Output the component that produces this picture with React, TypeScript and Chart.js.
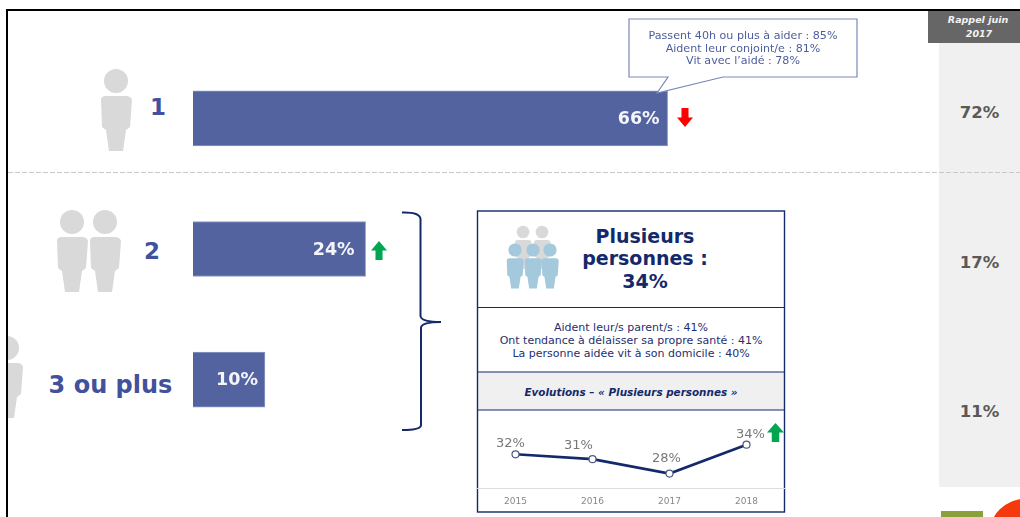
import React, { useEffect, useRef } from "react";
import { Chart, registerables } from "chart.js";

Chart.register(...registerables);

const categories = ["1", "2", "3 ou plus"];
const shares = [66, 24, 10];
const recallValues = [72, 17, 11];
const years = ["2015", "2016", "2017", "2018"];
const evolution = [32, 31, 28, 34];
const calloutLines = [
  "Passent 40h ou plus à aider : 85%",
  "Aident leur conjoint/e : 81%",
  "Vit avec l’aidé : 78%",
];
const panelLines = [
  "Aident leur/s parent/s : 41%",
  "Ont tendance à délaisser sa propre santé : 41%",
  "La personne aidée vit à son domicile : 40%",
];
const panelTitle = ["Plusieurs", "personnes :", "34%"];

const FONT = '"DejaVu Sans", Verdana, sans-serif';
const NAVY = "#14296b";
const BAR = "#5263a0";
const W = 1020;
const H = 517;

function Person({ cx, cy, s = 1, fill = "#d9d9d9" }: { cx: number; cy: number; s?: number; fill?: string }) {
  return (
    <g transform={`translate(${cx} ${cy}) scale(${s})`} fill={fill}>
      <circle cx={0} cy={0} r={12} />
      <path d="M-15 19 Q-15 15 -10 15 L10 15 Q15 15 16 19 L14 46 L10 49 L7 70 L-7 70 L-10 49 L-14 46 Z" />
    </g>
  );
}

function Arrow({ x, y, w, h, up, fill }: { x: number; y: number; w: number; h: number; up: boolean; fill: string }) {
  const a = w * 0.28;
  const head = h * 0.5;
  const pts = up
    ? [[x + w / 2, y], [x + w, y + head], [x + w - a, y + head], [x + w - a, y + h], [x + a, y + h], [x + a, y + head], [x, y + head]]
    : [[x + a, y], [x + w - a, y], [x + w - a, y + h - head], [x + w, y + h - head], [x + w / 2, y + h], [x, y + h - head], [x + a, y + h - head]];
  return <polygon points={pts.map((p) => p.join(",")).join(" ")} fill={fill} />;
}

export default function App() {
  const barRef = useRef<HTMLCanvasElement>(null);
  const lineRef = useRef<HTMLCanvasElement>(null);

  useEffect(() => {
    const insets = [8, 11, 7];
    const barValuePlugin = {
      id: "barValues",
      afterDatasetsDraw(chart: any) {
        const { ctx } = chart;
        const meta = chart.getDatasetMeta(0);
        ctx.save();
        ctx.font = `bold 17.5px ${FONT}`;
        ctx.fillStyle = "#f4f5fa";
        ctx.textAlign = "right";
        ctx.textBaseline = "middle";
        meta.data.forEach((el: any, i: number) => {
          ctx.fillText(`${shares[i]}%`, el.x - insets[i], el.y + 1);
        });
        ctx.restore();
      },
    };
    const bar = new Chart(barRef.current!, {
      type: "bar",
      data: {
        labels: categories,
        datasets: [{ data: shares, backgroundColor: BAR, borderColor: "#8d99c4", borderWidth: 1, barThickness: 55 }],
      },
      options: {
        indexAxis: "y",
        animation: false,
        responsive: false,
        layout: { padding: { left: 193, right: 0, top: 53, bottom: 72 } },
        plugins: { legend: { display: false }, tooltip: { enabled: false } },
        scales: {
          x: { display: false, min: 0, max: 115 },
          y: { display: false },
        },
      },
      plugins: [barValuePlugin],
    });

    const labelOffsets = [[-5, -11], [-14, -14], [-3, -15], [4, -10]];
    const lineLabelPlugin = {
      id: "lineLabels",
      afterDatasetsDraw(chart: any) {
        const { ctx } = chart;
        const meta = chart.getDatasetMeta(0);
        ctx.save();
        ctx.font = `13px ${FONT}`;
        ctx.fillStyle = "#777777";
        ctx.textAlign = "center";
        ctx.textBaseline = "middle";
        meta.data.forEach((el: any, i: number) => {
          ctx.fillText(`${evolution[i]}%`, el.x + labelOffsets[i][0], el.y + labelOffsets[i][1]);
        });
        ctx.restore();
      },
    };
    const line = new Chart(lineRef.current!, {
      type: "line",
      data: {
        labels: years,
        datasets: [{
          data: evolution,
          borderColor: NAVY,
          borderWidth: 2.6,
          tension: 0,
          pointRadius: 3.5,
          pointBackgroundColor: "#ffffff",
          pointBorderColor: "#4e5a84",
          pointBorderWidth: 1.2,
        }],
      },
      options: {
        animation: false,
        responsive: false,
        layout: { padding: 0, autoPadding: false },
        plugins: { legend: { display: false }, tooltip: { enabled: false } },
        scales: {
          x: {
            offset: true,
            afterFit(scale: any) {
              scale.height = 24;
              scale.paddingLeft = 0;
              scale.paddingRight = 0;
            },
            grid: { display: false },
            border: { display: true, color: "#dddddd", width: 1 },
            ticks: { color: "#888888", font: { family: FONT, size: 9 }, padding: 0, maxRotation: 0 },
          },
          y: { display: false, min: 25, max: 41 },
        },
      },
      plugins: [lineLabelPlugin],
    });
    return () => {
      bar.destroy();
      line.destroy();
    };
  }, []);

  const layer: React.CSSProperties = { position: "absolute", left: 0, top: 0 };
  return (
    <div style={{ position: "fixed", left: 0, top: 0, width: W, height: H, overflow: "hidden", background: "#fff", filter: "blur(0.4px)" }}>
      <svg width={W} height={H} style={layer} fontFamily={FONT}>
        {/* right column */}
        <rect x={939} y={43} width={81} height={444} fill="#f0f0f0" />
        <rect x={928} y={10} width={92} height={33} fill="#666666" />
        <text x={978} y={23} textAnchor="middle" fontSize={9.5} fontWeight="bold" fontStyle="italic" fill="#f2f2f2">Rappel juin</text>
        <text x={979} y={37} textAnchor="middle" fontSize={9.5} fontWeight="bold" fontStyle="italic" fill="#f2f2f2">2017</text>
        {recallValues.map((v, i) => (
          <text key={i} x={979.5} y={[118, 268, 417][i]} textAnchor="middle" fontSize={16.5} fontWeight="bold" fill="#595959">{v}%</text>
        ))}
        {/* separator */}
        <line x1={8} x2={1020} y1={172.5} y2={172.5} stroke="#c8c8c8" strokeWidth={1} strokeDasharray="5 2" />
        {/* silhouettes */}
        <Person cx={116} cy={81} />
        <Person cx={72} cy={222} />
        <Person cx={105} cy={222} />
        <Person cx={7} cy={348} />
        {/* frame */}
        <rect x={0} y={0} width={6} height={H} fill="#fff" />
        <rect x={6} y={9} width={2} height={H - 9} fill="#000" />
        <rect x={6} y={9} width={W - 6} height={2} fill="#000" />
        {/* category labels */}
        {categories.map((c, i) => (
          <text key={c} x={[158, 152, 110.5][i]} y={[115, 259, 393][i]} textAnchor="middle" fontSize={i === 2 ? 24 : 23} fontWeight="bold" fill="#42519c">{c}</text>
        ))}
        {/* arrows */}
        <Arrow x={677} y={108} w={16} h={19} up={false} fill="#ff0000" />
        <Arrow x={371} y={241} w={16} h={19} up fill="#00a651" />
        {/* brace */}
        <path d="M402 212.5 Q420 212 420.5 219 L420.5 316 Q421 322 441 322 Q421 322 421 328 L421 425 Q421 430 402 430" fill="none" stroke={NAVY} strokeWidth={2} />
        {/* panel */}
        <rect x={477.5} y={211} width={307} height={301} fill="#fff" />
        <rect x={477.5} y={372} width={307} height={38} fill="#f0f0f0" />
        <rect x={477.5} y={211} width={307} height={301} fill="none" stroke={NAVY} strokeWidth={1.4} />
        {[307.5, 372, 410].map((y) => (
          <line key={y} x1={477.5} x2={784.5} y1={y} y2={y} stroke={NAVY} strokeWidth={1.2} />
        ))}
        <Person cx={523} cy={232} s={0.53} />
        <Person cx={542} cy={232} s={0.53} />
        <Person cx={515} cy={250} s={0.55} fill="#a4c8dc" />
        <Person cx={533} cy={250} s={0.55} fill="#a4c8dc" />
        <Person cx={550} cy={250} s={0.55} fill="#a4c8dc" />
        {panelTitle.map((l, i) => (
          <text key={l} x={645} y={[243, 265, 288][i]} textAnchor="middle" fontSize={19} fontWeight="bold" fill="#14296b">{l}</text>
        ))}
        {panelLines.map((l, i) => (
          <text key={l} x={631} y={331 + i * 13} textAnchor="middle" fontSize={11} fill="#1e2f70">{l}</text>
        ))}
        <text x={631} y={396} textAnchor="middle" fontSize={10.4} fontWeight="bold" fontStyle="italic" fill="#14296b">Evolutions – « Plusieurs personnes »</text>
        <Arrow x={767} y={423} w={17} h={19} up fill="#00a651" />
        {/* bottom corner */}
        <rect x={941} y={511} width={42} height={6} fill="#8aa03a" />
        <circle cx={1025} cy={535} r={36} fill="#f5390c" />
      </svg>
      <canvas ref={barRef} width={W} height={H} style={{ ...layer, pointerEvents: "none" }} />
      <canvas ref={lineRef} width={308} height={101} style={{ position: "absolute", left: 477, top: 411, pointerEvents: "none" }} />
      <svg width={W} height={H} style={{ ...layer, pointerEvents: "none" }} fontFamily={FONT}>
        {/* callout */}
        <polygon points="629,19 857,19 857,77 723,77 657,93 668,77 629,77" fill="#fff" stroke="#7b88b8" strokeWidth={1.2} />
        {calloutLines.map((l, i) => (
          <text key={l} x={743} y={39 + i * 12.5} textAnchor="middle" fontSize={11.1} fill="#4d5c9e">{l}</text>
        ))}
      </svg>
    </div>
  );
}
